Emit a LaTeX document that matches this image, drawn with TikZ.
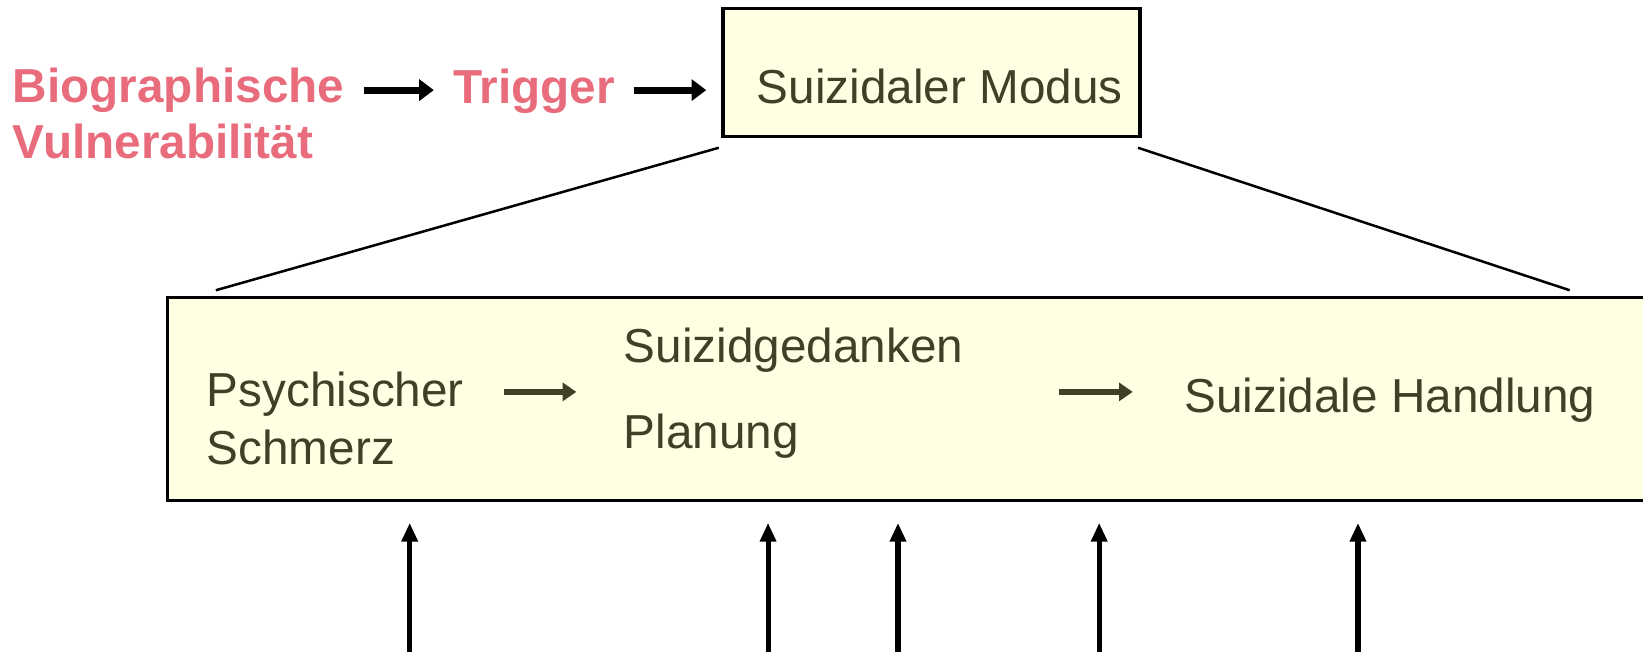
\documentclass[tikz,border=0pt]{standalone}
\usepackage{fontspec}
\setmainfont{Liberation Sans}
\usetikzlibrary{arrows.meta}
\definecolor{pinktxt}{RGB}{232,108,124}
\definecolor{olivetxt}{RGB}{64,64,40}
\definecolor{boxfill}{RGB}{255,255,227}
\tikzset{
  txt/.style={anchor=base west, inner sep=0pt, font=\fontsize{22.75}{27}\selectfont, text=olivetxt},
  pinklbl/.style={anchor=base west, inner sep=0pt, font=\fontsize{22.75}{27}\selectfont\bfseries, text=pinktxt},
  modebox/.style={draw=black, line width=1.5pt, fill=boxfill},
  blackarrow/.style={line width=3.3pt, -{Triangle[length=7pt,width=10pt]}},
  olivearrow/.style={draw=olivetxt, line width=2.8pt, -{Triangle[length=6.5pt,width=8.5pt]}, color=olivetxt},
  uparrow/.style={line width=2.4pt, -{Triangle[length=9pt,width=7.5pt]}},
  link/.style={line width=1.2pt}
}
\begin{document}
\begin{tikzpicture}[x=0.5pt,y=-0.5pt]
\useasboundingbox (0,0) rectangle (1568,621.3);
\begin{scope}
\clip (0,0) rectangle (1568,621.3);
% big box
\draw[modebox] (160,284) rectangle (1600,478);
\node[inner sep=0pt] (bigbox) at (864,381) {};
% top box
\draw[modebox] (690,8) rectangle (1088,130);
\node[inner sep=0pt] (topbox) at (889,69) {};
% texts
\node[pinklbl] (bio1) at (12,98) {Biographische};
\node[pinklbl] (bio2) at (12,151) {Vulnerabilität};
\node[pinklbl] (trig) at (432,99) {Trigger};
\node[txt] (modus) at (722,99) {Suizidaler Modus};
\node[txt] (psy1) at (197,388) {Psychischer};
\node[txt] (psy2) at (197,443) {Schmerz};
\node[txt] (gedanken) at (595,346) {Suizidgedanken};
\node[txt] (planung) at (595,428) {Planung};
\node[txt] (handlung) at (1130,394) {Suizidale Handlung};
% coordinates
\coordinate (a1s) at (347,86); \coordinate (a1e) at (414,86);
\coordinate (a2s) at (605,86); \coordinate (a2e) at (674,86);
\coordinate (b1s) at (481,374); \coordinate (b1e) at (550,374);
\coordinate (b2s) at (1011,374); \coordinate (b2e) at (1081,374);
\coordinate (l1s) at (686,141); \coordinate (l1e) at (206,277);
\coordinate (l2s) at (1086,141); \coordinate (l2e) at (1498,277);
\coordinate (u1s) at (391,625); \coordinate (u1e) at (391,499);
\coordinate (u2s) at (733,625); \coordinate (u2e) at (733,499);
\coordinate (u3s) at (857,625); \coordinate (u3e) at (857,499);
\coordinate (u4s) at (1049,625); \coordinate (u4e) at (1049,499);
\coordinate (u5s) at (1296,625); \coordinate (u5e) at (1296,499);
% arrows
\draw[blackarrow] (a1s) -- (a1e);
\draw[blackarrow] (a2s) -- (a2e);
\draw[olivearrow] (b1s) -- (b1e);
\draw[olivearrow] (b2s) -- (b2e);
\draw[link] (l1s) -- (l1e);
\draw[link] (l2s) -- (l2e);
\foreach \i in {1,...,5} {\draw[uparrow] (u\i s) -- (u\i e);}
\end{scope}
\end{tikzpicture}
\end{document}
